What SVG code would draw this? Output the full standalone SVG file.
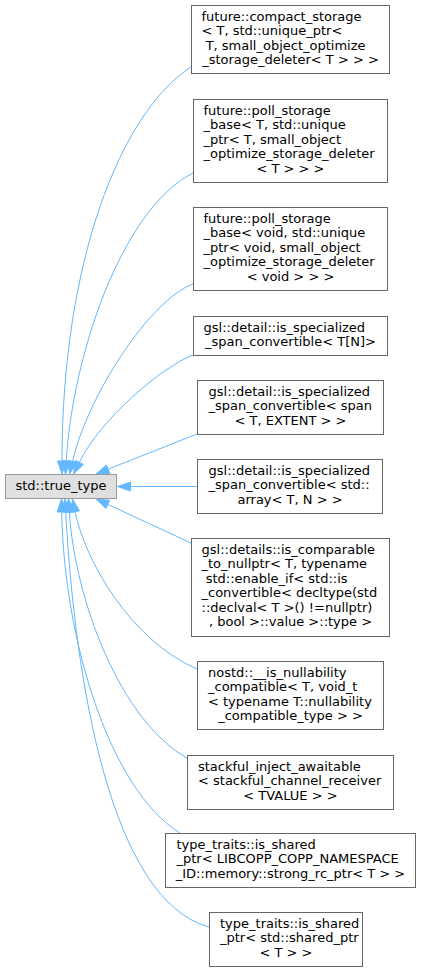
<svg xmlns="http://www.w3.org/2000/svg" width="421" height="973" viewBox="0 0 421 973">
<style>
text{font-family:"DejaVu Sans","Liberation Sans",sans-serif;font-size:13px;fill:#000}
.n rect{fill:#fff;stroke:#666;stroke-width:1}
.root rect{fill:#e0e0e0;stroke:#999;stroke-width:1}
.l{text-anchor:start}
.c{text-anchor:middle}
.e path{fill:none;stroke:#63b8ff;stroke-width:1}
.e polygon{fill:#63b8ff;stroke:#63b8ff;stroke-width:1}
</style>
<rect width="421" height="973" fill="#fff"/>
<g class="e" id="edges">
<path d="M191,67 C120,113 62,263 62,461"/><polygon points="57.5,461 62,474 66.5,461"/>
<path d="M193,173 C120,210 72,360 66.25,461"/><polygon points="61.76,460.7 65.5,474 70.74,461.5"/>
<path d="M193,284 C150,300 88,395 72.5,461.35"/><polygon points="68.1,460.3 69.5,474 76.9,462.4"/>
<path d="M193,355 C160,368 100,420 79.3,462.4"/><polygon points="75.3,460.4 73.5,474 83.3,464.4"/>
<path d="M197,434 L108.1,469.2"/><polygon points="106.4,465 96,474 109.8,473.4"/>
<path d="M197,486.5 L130.5,486.5"/><polygon points="130.5,482 117.5,486.5 130.5,491"/>
<path d="M191,543 L107.8,504.4"/><polygon points="109.7,500.3 96,499 105.9,508.5"/>
<path d="M197,669 C130,640 85,560 75.05,511.7"/><polygon points="79.5,510.8 72.5,499 70.6,512.6"/>
<path d="M187,758 C120,720 75,600 69.3,512"/><polygon points="73.8,511.7 68.5,499 64.8,512.3"/>
<path d="M180,833 C110,790 64,640 61.7,512"/><polygon points="57.2,512 61.5,499 66.2,512"/>
<path d="M209,927 C110,900 75,680 65.7,512"/><polygon points="70.2,512.2 65,499 61.2,511.8"/>
</g>
<g class="root" id="node_true_type">
<rect x="5.5" y="474.5" width="111" height="24"/>
<text class="c" x="61" y="489.7">std::true_type</text>
</g>
<g class="n" id="node1">
<rect x="191.5" y="5.5" width="198" height="68"/>
<text class="l" x="201.5" y="20.7">future::compact_storage</text>
<text class="l" x="201.5" y="35.2">&lt; T, std::unique_ptr&lt;</text>
<text class="l" x="201.5" y="49.7" xml:space="preserve"> T, small_object_optimize</text>
<text class="c" x="290.5" y="64.2">_storage_deleter&lt; T &gt; &gt; &gt;</text>
</g>
<g class="n" id="node2">
<rect x="193.5" y="99.5" width="194" height="83"/>
<text class="l" x="203.5" y="114.7">future::poll_storage</text>
<text class="l" x="203.5" y="129.2">_base&lt; T, std::unique</text>
<text class="l" x="203.5" y="143.7">_ptr&lt; T, small_object</text>
<text class="l" x="203.5" y="158.2">_optimize_storage_deleter</text>
<text class="c" x="290.5" y="172.7">&lt; T &gt; &gt; &gt;</text>
</g>
<g class="n" id="node3">
<rect x="193.5" y="207.5" width="194" height="83"/>
<text class="l" x="203.5" y="222.7">future::poll_storage</text>
<text class="l" x="203.5" y="237.2">_base&lt; void, std::unique</text>
<text class="l" x="203.5" y="251.7">_ptr&lt; void, small_object</text>
<text class="l" x="203.5" y="266.2">_optimize_storage_deleter</text>
<text class="c" x="290.5" y="280.7">&lt; void &gt; &gt; &gt;</text>
</g>
<g class="n" id="node4">
<rect x="193.5" y="316.5" width="194" height="39"/>
<text class="l" x="203.5" y="331.7">gsl::detail::is_specialized</text>
<text class="c" x="290.5" y="346.2">_span_convertible&lt; T[N]&gt;</text>
</g>
<g class="n" id="node5">
<rect x="197.5" y="380.5" width="186" height="54"/>
<text class="l" x="208.5" y="395.7">gsl::detail::is_specialized</text>
<text class="l" x="208.5" y="410.2">_span_convertible&lt; span</text>
<text class="c" x="290.5" y="424.7">&lt; T, EXTENT &gt; &gt;</text>
</g>
<g class="n" id="node6">
<rect x="197.5" y="459.5" width="185" height="54"/>
<text class="l" x="208.5" y="474.7">gsl::detail::is_specialized</text>
<text class="l" x="208.5" y="489.2">_span_convertible&lt; std::</text>
<text class="c" x="290" y="503.7">array&lt; T, N &gt; &gt;</text>
</g>
<g class="n" id="node7">
<rect x="191.5" y="538.5" width="198" height="98"/>
<text class="l" x="201.5" y="553.7">gsl::details::is_comparable</text>
<text class="l" x="201.5" y="568.2">_to_nullptr&lt; T, typename</text>
<text class="l" x="201.5" y="582.7" xml:space="preserve"> std::enable_if&lt; std::is</text>
<text class="l" x="201.5" y="597.2">_convertible&lt; decltype(std</text>
<text class="l" x="201.5" y="611.7">::declval&lt; T &gt;() !=nullptr)</text>
<text class="c" x="290.5" y="626.2">, bool &gt;::value &gt;::type &gt;</text>
</g>
<g class="n" id="node8">
<rect x="197.5" y="661.5" width="186" height="68"/>
<text class="l" x="208" y="676.7">nostd::__is_nullability</text>
<text class="l" x="208" y="691.2">_compatible&lt; T, void_t</text>
<text class="l" x="208" y="705.7">&lt; typename T::nullability</text>
<text class="c" x="290.5" y="720.2">_compatible_type &gt; &gt;</text>
</g>
<g class="n" id="node9">
<rect x="187.5" y="755.5" width="206" height="54"/>
<text class="l" x="198" y="770.7">stackful_inject_awaitable</text>
<text class="l" x="198" y="785.2">&lt; stackful_channel_receiver</text>
<text class="c" x="290.5" y="799.7">&lt; TVALUE &gt; &gt;</text>
</g>
<g class="n" id="node10">
<rect x="165.5" y="833.5" width="250" height="54"/>
<text class="l" x="176.5" y="848.7">type_traits::is_shared</text>
<text class="l" x="176.5" y="863.2">_ptr&lt; LIBCOPP_COPP_NAMESPACE</text>
<text class="c" x="290.5" y="877.7">_ID::memory::strong_rc_ptr&lt; T &gt; &gt;</text>
</g>
<g class="n" id="node11">
<rect x="209.5" y="912.5" width="153" height="54"/>
<text class="l" x="220" y="927.7">type_traits::is_shared</text>
<text class="l" x="220" y="942.2">_ptr&lt; std::shared_ptr</text>
<text class="c" x="286" y="956.7">&lt; T &gt; &gt;</text>
</g>
</svg>
